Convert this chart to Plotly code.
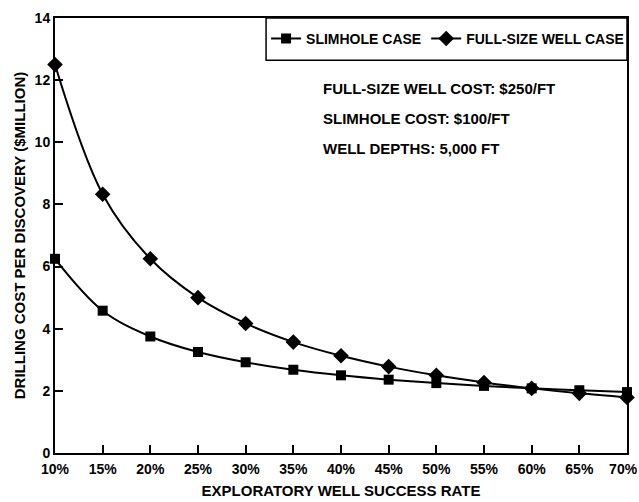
import plotly.graph_objects as go

success_rate = [10, 15, 20, 25, 30, 35, 40, 45, 50, 55, 60, 65, 70]
slimhole_cost = [6.25, 4.58, 3.75, 3.25, 2.92, 2.68, 2.5, 2.36, 2.25, 2.16, 2.08, 2.02, 1.96]
fullsize_cost = [12.5, 8.33, 6.25, 5.0, 4.17, 3.57, 3.13, 2.78, 2.5, 2.27, 2.08, 1.92, 1.79]
x_ticks = [10, 15, 20, 25, 30, 35, 40, 45, 50, 55, 60, 65, 70]
y_ticks = [0, 2, 4, 6, 8, 10, 12, 14]
notes = ["FULL-SIZE WELL COST: $250/FT", "SLIMHOLE COST: $100/FT", "WELL DEPTHS: 5,000 FT"]

FONT = "Liberation Sans, Arial, sans-serif"

x_labels = [f"<b>{v}%</b>" for v in x_ticks]
x_labels[-1] = x_labels[-1] + "\u00a0\u00a0"  # keep the last label inside the page

fig = go.Figure()
fig.add_trace(go.Scatter(
    x=success_rate, y=slimhole_cost, name="<b>SLIMHOLE CASE</b>",
    mode="lines+markers", line=dict(color="black", width=2, shape="spline"),
    marker=dict(symbol="square", size=10, color="black"), cliponaxis=False))
fig.add_trace(go.Scatter(
    x=success_rate, y=fullsize_cost, name="<b>FULL-SIZE WELL CASE</b>",
    mode="lines+markers", line=dict(color="black", width=2, shape="spline"),
    marker=dict(symbol="diamond", size=12, color="black"), cliponaxis=False))

# legend box
fig.add_shape(type="rect", xref="paper", yref="paper", x0=0.369, x1=1.0, y0=0.903, y1=1.0,
              line=dict(color="black", width=1.5), fillcolor="rgba(0,0,0,0)")

ys = [0.839, 0.770, 0.701]
for t, yy in zip(notes, ys):
    fig.add_annotation(text="<b>" + t + "</b>", xref="paper", yref="paper", x=0.465, y=yy,
                       xanchor="left", yanchor="middle", showarrow=False,
                       font=dict(family=FONT, size=15, color="black"))

fig.update_layout(
    width=639, height=502,
    margin=dict(l=55, r=12, t=18, b=49, autoexpand=False),
    paper_bgcolor="white", plot_bgcolor="white",
    font=dict(family=FONT, color="black", size=14),
    showlegend=True,
    legend=dict(orientation="h", x=0.369, xanchor="left", y=0.952, yanchor="middle",
                bgcolor="rgba(0,0,0,0)", font=dict(family=FONT, size=14, color="black"),
                itemwidth=30, tracegroupgap=0),
    xaxis=dict(range=[10, 70], tickvals=x_ticks, ticktext=x_labels,
               showgrid=False, zeroline=False, showline=True, linecolor="black", linewidth=2,
               mirror=True, ticks="inside", ticklen=8, tickwidth=2, tickcolor="black",
               automargin=False, ticklabeloverflow="allow", ticklabelstandoff=2,
               tickfont=dict(family=FONT, size=14, color="black"),
               title=dict(text="<b>EXPLORATORY WELL SUCCESS RATE</b>", standoff=10,
                          font=dict(family=FONT, size=15, color="black"))),
    yaxis=dict(range=[0, 14], tickvals=y_ticks, ticktext=[f"<b>{v}</b>" for v in y_ticks],
               showgrid=False, zeroline=False, showline=True, linecolor="black", linewidth=2,
               mirror=True, ticks="inside", ticklen=8, tickwidth=2, tickcolor="black",
               automargin=False,
               tickfont=dict(family=FONT, size=14, color="black"),
               title=dict(text="<b>DRILLING COST PER DISCOVERY ($MILLION)</b>", standoff=5,
                          font=dict(family=FONT, size=15, color="black"))),
)

fig.write_html("out.html", config={"displayModeBar": False},
               post_script="document.body.style.margin='0';document.body.style.overflow='hidden';")
